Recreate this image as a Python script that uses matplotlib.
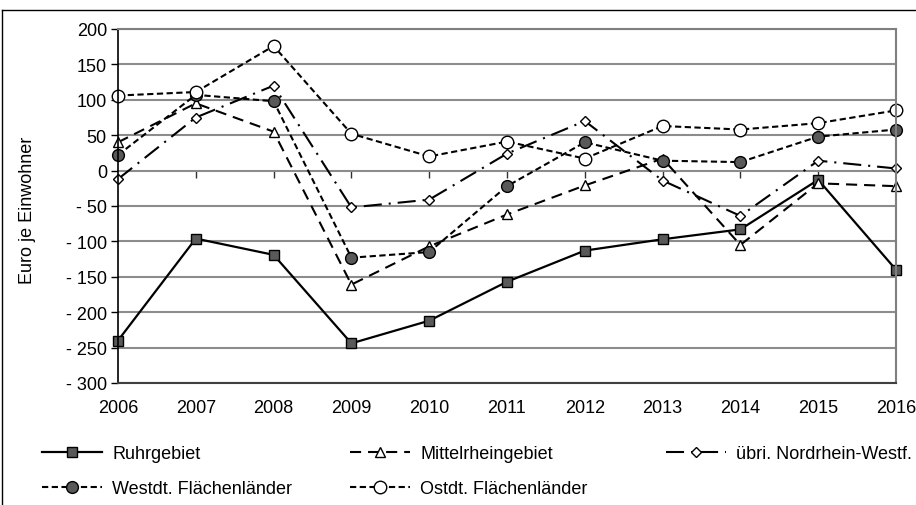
import matplotlib
matplotlib.use("Agg")
import matplotlib.pyplot as plt
from matplotlib.lines import Line2D

# --- data ---
years = [2006, 2007, 2008, 2009, 2010, 2011, 2012, 2013, 2014, 2015, 2016]

ruhrgebiet = [-240, -96, -119, -244, -212, -157, -113, -97, -83, -13, -140]
mittelrhein = [40, 95, 55, -161, -107, -62, -21, 17, -105, -18, -22]
uebri_nrw = [-12, 75, 120, -52, -41, 24, 70, -14, -64, 14, 3]
westdt = [22, 107, 98, -123, -115, -22, 40, 14, 12, 48, 58]
ostdt = [106, 111, 176, 52, 20, 41, 17, 63, 58, 67, 85]

y_ticks = [200, 150, 100, 50, 0, -50, -100, -150, -200, -250, -300]
y_tick_labels = ["200", "150", "100", "50", "0", "- 50", "- 100", "- 150",
                 "- 200", "- 250", "- 300"]

plt.rcParams['font.family'] = ['Liberation Sans', 'DejaVu Sans']
plt.rcParams['font.size'] = 13
plt.rcParams['lines.scale_dashes'] = False

fig = plt.figure(figsize=(9.16, 5.06), dpi=100)
ax = fig.add_axes([118 / 916, 1 - 384 / 506, 778 / 916, 354 / 506])

grey_fill = '#595959'
series = [
    ("Ruhrgebiet", ruhrgebiet, dict(linestyle='-', marker='s', ms=7,
                                    mfc=grey_fill, lw=1.6)),
    ("Mittelrheingebiet", mittelrhein, dict(linestyle=(0, (8, 5)), marker='^',
                                            ms=6.5, mfc='white', lw=1.5)),
    ("übri. Nordrhein-Westf.", uebri_nrw, dict(linestyle=(0, (13, 5, 1.5, 5)),
                                                 marker='D', ms=5, mfc='white', lw=1.5)),
    ("Westdt. Flächenländer", westdt, dict(linestyle=(0, (4.5, 2.5)), marker='o',
                                           ms=8.5, mfc=grey_fill, lw=1.5)),
    ("Ostdt. Flächenländer", ostdt, dict(linestyle=(0, (4.5, 2.5)), marker='o',
                                         ms=9, mfc='white', lw=1.5)),
]

lines = []
for label, vals, style in series:
    ln, = ax.plot(years, vals, color='black', mec='black', mew=1.0,
                  clip_on=False, label=label, **style)
    lines.append(ln)

ax.set_xlim(2006, 2016)
ax.set_ylim(-300, 200)
ax.set_yticks(y_ticks)
ax.set_yticklabels(y_tick_labels)
ax.set_xticks(years)
ax.set_xticklabels([str(y) for y in years])
ax.tick_params(axis='x', length=0, pad=11.5)
ax.tick_params(axis='y', length=5, width=1, pad=3, direction='out')

# horizontal gridlines
ax.yaxis.grid(True, color='#8c8c8c', linewidth=1.5)
ax.set_axisbelow(True)

ax.spines['left'].set_color('black')
ax.spines['left'].set_linewidth(1.2)
ax.spines['bottom'].set_color('#404040')
ax.spines['bottom'].set_linewidth(1.5)
ax.spines['top'].set_color('#7f7f7f')
ax.spines['top'].set_linewidth(1.5)
ax.spines['right'].set_color('#7f7f7f')
ax.spines['right'].set_linewidth(1.5)

# category axis crossing at zero with tick marks
secax = ax.secondary_xaxis(300 / 500)
secax.set_alignment('bottom')
secax.set_xticks(years[1:-1])
secax.tick_params(axis='x', length=5, width=1, direction='out', labelbottom=False,
                  labeltop=False, color='#303030')
secax.spines['bottom'].set_color('#303030')
secax.spines['bottom'].set_linewidth(1.2)

fig.text(28 / 916, 1 - 210 / 506, "Euro je Einwohner", rotation=90,
         ha='center', va='center', fontsize=13)

# legends in three columns
legend_kw = dict(frameon=False, handlelength=3.3, handletextpad=0.6,
                 labelspacing=1.0, borderpad=0, borderaxespad=0, fontsize=13,
                 loc='upper left')
leg1 = fig.legend([lines[0], lines[3]], [series[0][0], series[3][0]],
                  bbox_to_anchor=(42 / 916, 1 - 446 / 506), **legend_kw)
leg2 = fig.legend([lines[1], lines[4]], [series[1][0], series[4][0]],
                  bbox_to_anchor=(350 / 916, 1 - 446 / 506), **legend_kw)
leg3 = fig.legend([lines[2]], [series[2][0]],
                  bbox_to_anchor=(666 / 916, 1 - 446 / 506), **legend_kw)

# outer frame lines (top and left)
fig.add_artist(Line2D([2 / 916, 1], [1 - 11 / 506, 1 - 11 / 506], color='black', lw=1))
fig.add_artist(Line2D([2 / 916, 2 / 916], [0, 1 - 11 / 506], color='black', lw=1))

fig.savefig("out.png", dpi=100)
